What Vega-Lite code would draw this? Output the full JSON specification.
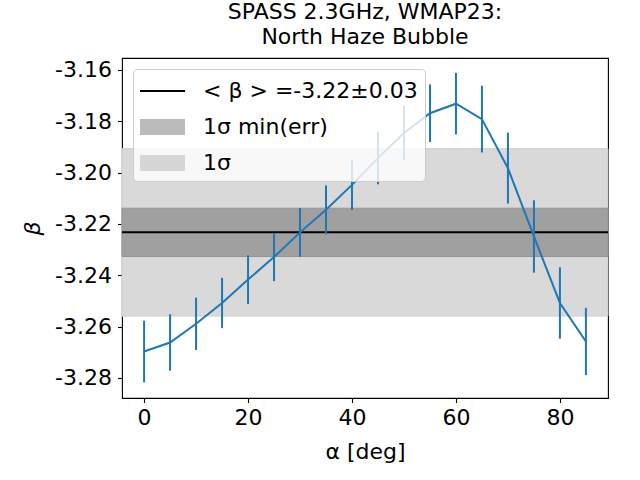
{
  "$schema": "https://vega.github.io/schema/vega-lite/v6.json",
  "width": 486,
  "height": 340,
  "autosize": "none",
  "padding": {"left": 122, "top": 58, "right": 32, "bottom": 82},
  "background": "white",
  "title": {
    "text": ["SPASS 2.3GHz, WMAP23:", "North Haze Bubble"],
    "fontSize": 22,
    "fontWeight": "normal",
    "font": "DejaVu Sans",
    "color": "black",
    "anchor": "middle",
    "lineHeight": 25,
    "offset": 9
  },
  "config": {
    "font": "DejaVu Sans",
    "view": {"stroke": "black", "strokeWidth": 1.1},
    "axis": {
      "grid": false,
      "domain": false,
      "tickColor": "black",
      "tickSize": 4.5,
      "tickWidth": 1.1,
      "labelColor": "black",
      "labelFontSize": 22,
      "labelFont": "DejaVu Sans",
      "titleColor": "black",
      "titleFontSize": 22,
      "titleFont": "DejaVu Sans",
      "titleFontWeight": "normal"
    },
    "legend": {
      "title": null,
      "orient": "top-left",
      "offset": 11,
      "padding": 7,
      "fillColor": "rgba(255,255,255,0.8)",
      "strokeColor": "#cccccc",
      "cornerRadius": 4,
      "labelFontSize": 22,
      "labelFont": "DejaVu Sans",
      "labelColor": "black",
      "labelOffset": 33,
      "symbolSize": 900,
      "symbolOpacity": 1,
      "symbolStrokeWidth": 0,
      "rowPadding": 10,
      "labelLimit": 400
    }
  },
  "datasets": {
    "beta": [
      {"a": 0, "beta": -3.2697, "err": 0.0120},
      {"a": 5, "beta": -3.2662, "err": 0.0110},
      {"a": 10, "beta": -3.2589, "err": 0.0102},
      {"a": 15, "beta": -3.2508, "err": 0.0098},
      {"a": 20, "beta": -3.2417, "err": 0.0095},
      {"a": 25, "beta": -3.2329, "err": 0.0094},
      {"a": 30, "beta": -3.2233, "err": 0.0095},
      {"a": 35, "beta": -3.2145, "err": 0.0095},
      {"a": 40, "beta": -3.2048, "err": 0.0098},
      {"a": 45, "beta": -3.1944, "err": 0.0102},
      {"a": 50, "beta": -3.1846, "err": 0.0105},
      {"a": 55, "beta": -3.1769, "err": 0.0112},
      {"a": 60, "beta": -3.1732, "err": 0.0120},
      {"a": 65, "beta": -3.1792, "err": 0.0130},
      {"a": 70, "beta": -3.1983, "err": 0.0138},
      {"a": 75, "beta": -3.2249, "err": 0.0141},
      {"a": 80, "beta": -3.2508, "err": 0.0139},
      {"a": 85, "beta": -3.2658, "err": 0.0131}
    ],
    "wide": [
      {"label": "1σ", "lo": -3.2559, "hi": -3.1907}
    ],
    "narrow": [
      {"label": "1σ min(err)", "lo": -3.2327, "hi": -3.2139}
    ],
    "mean": [
      {"label": "< β > =-3.22±0.03", "value": -3.2233}
    ],
    "none": []
  },
  "layer": [
    {
      "data": {"name": "wide"},
      "mark": {"type": "rect", "color": "#d9d9d9", "stroke": "#cfcfcf", "strokeWidth": 1},
      "encoding": {
        "y": {
          "field": "lo",
          "type": "quantitative",
          "scale": {"domain": [-3.2878, -3.1554], "nice": false, "zero": false},
          "axis": {
            "values": [-3.28, -3.26, -3.24, -3.22, -3.2, -3.18, -3.16],
            "labelExpr": "replace(format(datum.value, '.2f'), '\u2212', '-')",
            "labelPadding": 6,
            "titlePadding": 10,
            "titleFontStyle": "italic"
          },
          "title": "β"
        },
        "y2": {"field": "hi"}
      }
    },
    {
      "data": {"name": "narrow"},
      "mark": {"type": "rect", "color": "#a0a0a0", "stroke": "#939393", "strokeWidth": 1},
      "encoding": {
        "y": {"field": "lo", "type": "quantitative", "title": "β"},
        "y2": {"field": "hi"}
      }
    },
    {
      "data": {"name": "mean"},
      "mark": {"type": "rule", "color": "black", "strokeWidth": 2},
      "encoding": {
        "y": {"field": "value", "type": "quantitative", "title": "β"}
      }
    },
    {
      "data": {"name": "beta"},
      "mark": {"type": "line", "color": "#1f77b4", "strokeWidth": 2},
      "encoding": {
        "x": {
          "field": "a",
          "type": "quantitative",
          "scale": {"domain": [-4.25, 89.25], "nice": false, "zero": false},
          "axis": {
            "values": [0, 20, 40, 60, 80],
            "labelPadding": 5,
            "titlePadding": 13
          },
          "title": "α [deg]"
        },
        "y": {"field": "beta", "type": "quantitative", "title": "β"}
      }
    },
    {
      "data": {"name": "beta"},
      "mark": {"type": "errorbar", "color": "#1f77b4", "thickness": 2},
      "encoding": {
        "x": {"field": "a", "type": "quantitative", "title": "α [deg]"},
        "y": {"field": "beta", "type": "quantitative", "title": "β"},
        "yError": {"field": "err"}
      }
    },
    {
      "data": {"name": "none"},
      "mark": {"type": "point", "filled": true, "opacity": 1},
      "encoding": {
        "color": {
          "field": "label",
          "type": "nominal",
          "scale": {
            "domain": ["< β > =-3.22±0.03", "1σ min(err)", "1σ"],
            "range": ["#000000", "#bbbbbb", "#d6d6d6"]
          },
          "legend": {"title": null}
        },
        "shape": {
          "field": "label",
          "type": "nominal",
          "scale": {
            "domain": ["< β > =-3.22±0.03", "1σ min(err)", "1σ"],
            "range": ["M-1,-0.067H2V0.067H-1Z", "M-1,-0.53H2V0.53H-1Z", "M-1,-0.53H2V0.53H-1Z"]
          },
          "legend": {"title": null}
        }
      }
    }
  ]
}
